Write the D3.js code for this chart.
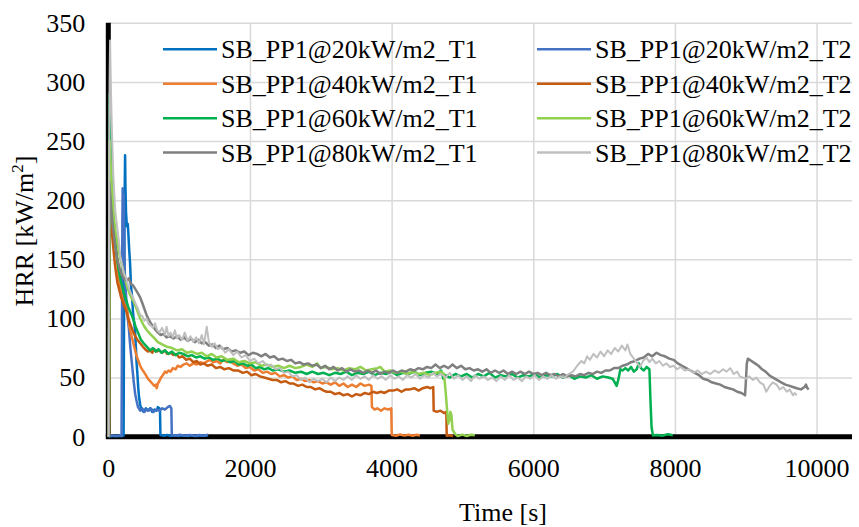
<!DOCTYPE html>
<html>
<head>
<meta charset="utf-8">
<script src="https://cdn.jsdelivr.net/npm/d3@7"></script>
<style>
  body { margin: 0; background: #fff; }
  svg { display: block; }
  svg text { font-family: "Liberation Serif", "Times New Roman", Times, serif; fill: #000; }
</style>
</head>
<body>
<div id="chart"></div>
<script>
var W = 859, H = 527;

// HRR curves, [time s, HRR kW/m2]
var s20T1 = [[0,0.6],[40,0.3],[80,0.8],[120,0.4],[160,0.7],[200,0.5],[216,1],[224,130],[231,205],[237,238],[242,212],[250,190],[262,178],[275,180],[283,172],[295,158],[307,147],[320,128],[336,118],[350,104],[365,96],[377,90],[390,75],[400,62],[412,52],[422,42],[433,34],[450,27],[470,23],[500,21],[530,24],[560,22],[590,24],[620,21],[650,23],[680,22],[700,25],[720,24],[730,22],[736,1.5],[780,0.8],[830,1.5],[880,0.6],[930,1.2],[990,0.5],[1050,1.3],[1120,0.6],[1180,1.2],[1250,0.5],[1320,1.1],[1400,0.7]];
var s20T2 = [[0,0.4],[50,1],[100,0.5],[150,0.9],[187,0.6],[193,90],[199,185],[203,210],[207,200],[212,190],[218,205],[224,170],[232,140],[245,125],[260,110],[275,100],[290,92],[305,80],[320,70],[340,58],[360,46],[380,36],[400,30],[420,25],[450,22],[480,24],[510,21],[540,23],[570,22],[600,24],[640,21],[680,23],[720,22],[760,24],[800,23],[840,25],[870,26],[890,24],[897,1.5],[950,0.8],[1010,1.6],[1080,0.7],[1150,1.5],[1220,0.6],[1290,1.4],[1350,0.8],[1410,1.6]];
var s40T1 = [[0,0],[10,1.5],[18,160],[25,205],[32,215],[42,200],[55,195],[70,185],[85,178],[95,170],[110,158],[125,150],[140,138],[160,130],[180,122],[200,117],[225,112],[250,110],[275,104],[300,92],[325,86],[350,80],[375,74],[400,68],[425,64],[450,60],[475,57],[500,55],[530,52],[560,49],[590,47],[620,45],[650,43],[670,44],[683,41],[700,45],[720,47],[745,50],[770,52],[800,55],[824,54],[850,56],[880,55],[910,58],[950,57],[980,60],[1020,59],[1060,61],[1107,62],[1150,60],[1200,62],[1250,61],[1300,63],[1350,62],[1400,64],[1435,65],[1480,63],[1530,64],[1580,62],[1620,65],[1680,63],[1720,64],[1765,62],[1820,60],[1880,61],[1940,58],[2000,59],[2060,56],[2120,57],[2180,54],[2240,55],[2300,53],[2360,54],[2420,51],[2480,52],[2540,50],[2600,51],[2660,48],[2720,49],[2780,47],[2840,48],[2900,46],[2960,47],[3020,45],[3080,46],[3140,44],[3200,46],[3260,43],[3320,45],[3380,42],[3440,44],[3500,42],[3560,45],[3620,43],[3680,44],[3715,43],[3722,25],[3760,23],[3800,24],[3850,22],[3900,24],[3950,23],[3995,24],[4002,1.5],[4060,0.8],[4120,1.8],[4180,0.9],[4240,1.7],[4300,0.8],[4350,1.6],[4400,1.0]];
var s40T2 = [[0,0],[10,1],[16,140],[22,195],[30,190],[40,182],[55,170],[70,160],[90,148],[110,138],[130,130],[155,124],[180,118],[205,114],[230,110],[255,106],[280,100],[305,96],[330,92],[355,88],[380,85],[410,82],[450,79],[490,76],[520,74],[560,72],[590,73],[620,71],[650,74],[680,72],[720,73],[760,71],[800,73],[830,70],[880,71],[920,69],[960,70],[1000,67],[1050,68],[1100,65],[1150,66],[1200,63],[1250,64],[1300,61],[1350,62],[1400,60],[1460,61],[1520,58],[1580,59],[1640,57],[1700,58],[1765,56],[1830,56],[1900,54],[1960,55],[2020,52],[2080,53],[2142,51],[2200,50],[2260,49],[2320,48],[2380,48],[2440,46],[2500,47],[2560,45],[2610,45],[2680,43],[2740,44],[2800,42],[2860,42],[2920,40],[2980,41],[3040,39],[3082,38],[3140,38],[3200,36],[3260,37],[3320,35],[3380,36],[3440,34],[3500,36],[3560,35],[3620,37],[3680,36],[3740,38],[3788,37],[3850,38],[3900,37],[3960,39],[4023,39],[4080,40],[4140,38],[4200,40],[4258,40],[4320,41],[4380,39],[4440,41],[4500,42],[4550,41],[4588,42],[4594,22],[4640,21],[4690,22],[4740,20],[4772,21],[4778,0.8],[4820,1.2],[4870,0.6]];
var s60T1 = [[0,0],[8,1],[14,160],[20,290],[26,265],[35,240],[45,215],[60,195],[75,180],[90,168],[110,158],[130,148],[150,140],[175,132],[200,126],[225,120],[250,116],[280,110],[315,105],[350,100],[385,93],[420,88],[460,82],[500,79],[545,76],[590,73],[630,75],[670,72],[710,74],[750,71],[800,73],[850,70],[900,72],[950,69],[1000,71],[1060,70],[1120,68],[1180,69],[1240,67],[1300,68],[1360,66],[1420,67],[1480,65],[1540,66],[1600,64],[1660,65],[1720,63],[1780,64],[1840,61],[1900,62],[1960,60],[2020,61],[2080,58],[2140,59],[2200,57],[2260,58],[2320,56],[2400,57],[2480,55],[2560,56],[2640,54],[2720,55],[2800,53],[2880,55],[2960,53],[3040,54],[3120,52],[3200,54],[3280,53],[3360,55],[3440,52],[3520,54],[3600,53],[3680,55],[3760,52],[3840,54],[3920,53],[4000,55],[4080,52],[4160,54],[4240,53],[4320,55],[4400,52],[4480,54],[4560,55],[4640,53],[4700,56],[4730,49],[4760,52],[4820,50],[4900,53],[4980,51],[5060,53],[5140,50],[5220,53],[5300,51],[5380,54],[5460,50],[5540,52],[5620,51],[5700,53],[5780,50],[5860,52],[5940,51],[6020,53],[6100,50],[6180,52],[6260,51],[6340,53],[6420,50],[6500,52],[6580,49],[6660,51],[6740,50],[6820,52],[6900,49],[6980,51],[7060,50],[7120,49],[7150,46],[7177,43],[7200,48],[7230,57],[7260,56],[7300,58],[7340,56],[7380,59],[7420,55],[7460,57],[7490,62],[7520,58],[7560,56],[7600,59],[7640,57],[7655,30],[7670,8],[7690,1],[7750,1.5],[7820,0.8],[7900,2],[7970,1.2]];
var s60T2 = [[0,0],[8,1],[13,130],[19,250],[26,240],[35,228],[45,215],[60,200],[80,185],[105,172],[130,163],[155,155],[180,148],[210,140],[240,133],[270,126],[300,121],[330,117],[360,114],[400,108],[450,100],[500,94],[545,90],[590,87],[640,84],[700,80],[760,78],[830,76],[900,75],[970,73],[1040,74],[1110,71],[1180,72],[1250,70],[1320,71],[1390,68],[1460,70],[1530,67],[1600,68],[1680,65],[1765,66],[1840,63],[1920,64],[2000,62],[2080,63],[2160,60],[2240,61],[2320,59],[2400,60],[2480,58],[2560,60],[2640,58],[2720,59],[2800,61],[2880,59],[2950,62],[3000,58],[3080,59],[3160,57],[3240,58],[3320,56],[3400,58],[3480,57],[3560,59],[3640,56],[3720,57],[3800,58],[3840,59],[3900,55],[3980,56],[4060,54],[4140,55],[4220,53],[4300,55],[4380,53],[4460,54],[4540,52],[4620,54],[4700,55],[4740,53],[4760,40],[4780,25],[4800,11],[4815,14],[4830,21],[4845,18],[4860,6],[4900,2],[4935,0.5],[5000,1.8],[5060,0.6],[5120,1.6],[5175,1.2]];
var s80T1 = [[0,0],[5,1],[10,150],[16,215],[22,208],[32,200],[45,190],[60,180],[80,170],[100,160],[120,152],[145,146],[170,140],[200,136],[230,133],[264,132],[290,134],[320,129],[350,128],[380,125],[410,122],[448,118],[480,113],[510,108],[540,103],[570,99],[600,96],[634,93],[670,90],[700,88],[740,86],[780,87],[823,84],[870,85],[920,83],[970,85],[1020,82],[1070,84],[1120,81],[1170,83],[1220,80],[1270,82],[1320,79],[1370,80],[1420,77],[1470,78],[1520,75],[1570,77],[1620,74],[1680,75],[1740,72],[1800,73],[1860,71],[1920,72],[1980,69],[2040,71],[2100,70],[2160,68],[2220,70],[2280,67],[2340,68],[2400,65],[2460,66],[2520,64],[2580,65],[2640,62],[2700,63],[2760,61],[2820,62],[2880,60],[2940,61],[3000,58],[3060,60],[3120,57],[3180,59],[3240,56],[3300,58],[3360,55],[3420,57],[3480,55],[3540,56],[3600,54],[3660,56],[3720,54],[3780,56],[3840,53],[3900,55],[3960,54],[4020,56],[4080,54],[4140,56],[4200,55],[4260,57],[4320,56],[4380,58],[4440,57],[4500,59],[4560,58],[4620,61],[4680,58],[4740,60],[4800,58],[4860,61],[4920,58],[4980,60],[5040,57],[5100,58],[5160,56],[5220,57],[5280,55],[5340,57],[5400,54],[5460,56],[5520,54],[5580,56],[5640,53],[5700,55],[5760,53],[5820,55],[5880,53],[5940,55],[6000,53],[6060,54],[6120,52],[6180,54],[6240,52],[6300,53],[6360,51],[6420,53],[6480,51],[6540,52],[6600,51],[6660,53],[6720,52],[6780,54],[6840,53],[6900,55],[6960,54],[7020,56],[7080,56],[7140,58],[7200,58],[7260,60],[7320,61],[7380,63],[7440,64],[7500,66],[7560,67],[7620,70],[7680,68],[7740,71],[7800,69],[7860,68],[7920,66],[7980,65],[8040,62],[8100,60],[8160,58],[8220,56],[8280,54],[8340,52],[8400,49],[8460,48],[8520,46],[8580,45],[8640,44],[8700,42],[8760,41],[8820,40],[8880,38],[8940,37],[8990,35],[9000,45],[9015,62],[9030,66],[9080,64],[9130,62],[9180,60],[9230,57],[9280,55],[9330,52],[9385,50],[9440,48],[9500,46],[9560,44],[9620,43],[9667,42],[9720,41],[9780,40],[9830,42],[9850,44],[9870,41],[9890,40]];
var s80T2 = [[0,0],[5,2],[12,200],[18,300],[25,335],[32,310],[42,280],[55,250],[70,222],[85,205],[100,190],[115,182],[130,175],[150,165],[170,152],[195,145],[220,138],[245,135],[270,130],[300,124],[330,120],[360,116],[390,112],[420,108],[450,103],[480,102],[510,98],[540,100],[570,95],[600,94],[630,92],[660,96],[690,90],[720,88],[760,92],[800,86],[823,93],[850,85],[880,88],[910,84],[940,90],[970,83],[1000,86],[1040,82],[1080,88],[1120,81],[1160,85],[1200,80],[1240,84],[1280,79],[1320,86],[1350,78],[1390,93],[1420,80],[1460,76],[1500,79],[1550,74],[1600,76],[1650,71],[1700,74],[1765,69],[1820,72],[1880,67],[1940,69],[2000,64],[2060,66],[2120,62],[2180,64],[2240,60],[2300,61],[2360,57],[2420,58],[2480,54],[2540,55],[2600,51],[2660,52],[2720,48],[2780,50],[2840,46],[2900,49],[2960,47],[3020,49],[3080,46],[3140,50],[3200,47],[3260,50],[3320,48],[3380,51],[3440,48],[3500,52],[3560,49],[3620,51],[3680,48],[3740,52],[3800,49],[3860,51],[3920,48],[3980,52],[4040,49],[4100,51],[4160,48],[4220,52],[4280,50],[4340,53],[4400,49],[4460,52],[4520,50],[4580,54],[4640,51],[4700,53],[4760,50],[4820,54],[4880,49],[4940,52],[5000,48],[5060,51],[5120,47],[5180,52],[5240,49],[5300,51],[5360,48],[5420,50],[5480,47],[5540,51],[5600,48],[5660,52],[5720,48],[5780,50],[5840,47],[5900,51],[5960,49],[6020,52],[6080,48],[6140,51],[6200,49],[6260,52],[6320,49],[6380,51],[6440,50],[6500,53],[6560,55],[6620,60],[6680,64],[6720,62],[6760,68],[6800,65],[6850,70],[6900,67],[6950,72],[7000,68],[7050,73],[7100,70],[7150,75],[7200,72],[7250,77],[7300,73],[7330,78],[7370,70],[7420,66],[7470,62],[7506,59],[7550,64],[7600,67],[7640,63],[7680,66],[7730,62],[7780,64],[7830,60],[7880,62],[7930,59],[7980,60],[8030,57],[8080,59],[8140,56],[8200,57],[8260,54],[8320,56],[8380,53],[8440,55],[8500,53],[8560,56],[8620,54],[8680,57],[8730,55],[8780,58],[8830,53],[8880,55],[8917,51],[8960,50],[9000,49],[9050,51],[9100,48],[9150,50],[9200,46],[9250,44],[9290,38],[9340,43],[9380,46],[9435,44],[9480,40],[9530,42],[9580,38],[9620,40],[9667,35],[9690,37],[9720,35]];

var names = ["SB_PP1@20kW/m2_T1", "SB_PP1@20kW/m2_T2", "SB_PP1@40kW/m2_T1", "SB_PP1@40kW/m2_T2",
             "SB_PP1@60kW/m2_T1", "SB_PP1@60kW/m2_T2", "SB_PP1@80kW/m2_T1", "SB_PP1@80kW/m2_T2"];
var colors = ["#0070C0", "#4472C4", "#ED7D31", "#C55A11", "#00B050", "#92D050", "#7F7F7F", "#BFBFBF"];
var seriesData = [s20T1, s20T2, s40T1, s40T2, s60T1, s60T2, s80T1, s80T2];
var xTicks = [0, 2000, 4000, 6000, 8000, 10000];
var yTicks = [0, 50, 100, 150, 200, 250, 300, 350];

var serif = "'Liberation Serif', 'Times New Roman', Times, serif";

var svg = d3.select("#chart").append("svg")
  .attr("width", W)
  .attr("height", H)
  .style("font-family", serif);

var x = d3.scaleLinear().domain([0, 10500]).range([108.3, 852]);
var y = d3.scaleLinear().domain([0, 350]).range([436.7, 22.8]);

// gridlines + tick labels
var yAxis = d3.axisLeft(y).tickValues(yTicks).tickSize(-(852 - 108.3)).tickPadding(23);
var gy = svg.append("g")
  .attr("transform", "translate(108.3,0)")
  .call(yAxis)
  .attr("font-family", null);
gy.select(".domain").remove();
gy.selectAll("line").attr("stroke", "#d9d9d9").attr("stroke-width", 1.5);
gy.selectAll("text").attr("font-size", 26).style("font-family", serif);

var xAxis = d3.axisBottom(x).tickValues(xTicks).tickFormat(d3.format("d"))
  .tickSize(-(436.7 - 22.8)).tickPadding(22);
var gx = svg.append("g")
  .attr("transform", "translate(0,436.7)")
  .call(xAxis)
  .attr("font-family", null);
gx.select(".domain").remove();
gx.selectAll("line").attr("stroke", "#d9d9d9").attr("stroke-width", 1.5);
gx.selectAll("text").attr("font-size", 26).style("font-family", serif);

// thick black axis lines
svg.append("line")
  .attr("x1", x(0) - 2.5).attr("x2", 852)
  .attr("y1", y(0)).attr("y2", y(0))
  .attr("stroke", "#000").attr("stroke-width", 5);
svg.append("line")
  .attr("x1", x(0)).attr("x2", x(0))
  .attr("y1", y(350)).attr("y2", y(0))
  .attr("stroke", "#000").attr("stroke-width", 5);

var line = d3.line()
  .x(function(d) { return x(d[0]); })
  .y(function(d) { return y(d[1]); });

seriesData.forEach(function(s, i) {
  svg.append("path")
    .datum(s)
    .attr("d", line)
    .attr("fill", "none")
    .attr("stroke", colors[i])
    .attr("stroke-width", i == 7 ? 2 : 2.5)
    .attr("stroke-linejoin", "round");
});

// legend
var legRows = [49.3, 83.7, 118.2, 152.6];
names.forEach(function(n, i) {
  var col = i % 2, row = Math.floor(i / 2);
  var lx = col == 0 ? 163 : 537;
  var g = svg.append("g").attr("transform", "translate(" + lx + "," + legRows[row] + ")");
  g.append("line")
    .attr("x1", 0).attr("x2", 54)
    .attr("stroke", colors[i]).attr("stroke-width", 2.5);
  g.append("text")
    .attr("x", 58).attr("y", 9)
    .attr("font-size", 26)
    .text(n);
});

// axis titles
svg.append("text")
  .attr("x", 503)
  .attr("y", 521)
  .attr("text-anchor", "middle")
  .attr("font-size", 26)
  .text("Time [s]");

var yt = svg.append("text")
  .attr("transform", "translate(33,231)rotate(-90)")
  .attr("text-anchor", "middle")
  .attr("font-size", 26);
yt.append("tspan").text("HRR [kW/m");
yt.append("tspan").attr("font-size", 17).attr("dy", -10).text("2");
yt.append("tspan").attr("dy", 10).text("]");
</script>
</body>
</html>
